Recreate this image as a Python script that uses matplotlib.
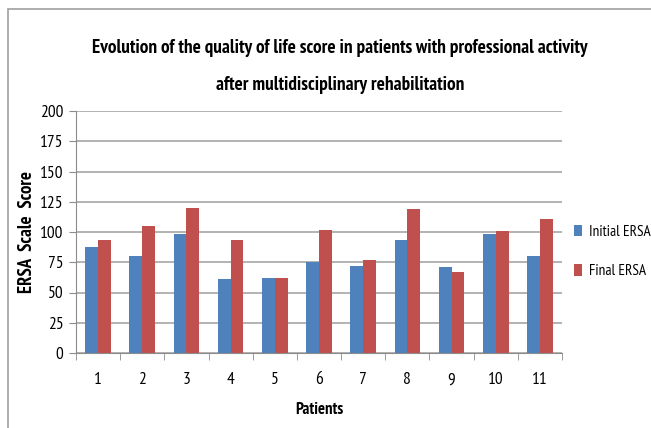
import numpy as np
import matplotlib.pyplot as plt
from matplotlib.patches import Rectangle

patients = ["1", "2", "3", "4", "5", "6", "7", "8", "9", "10", "11"]
initial_ersa = [88, 80, 98, 61, 62, 75, 72, 93, 71, 98, 80]
final_ersa = [93, 105, 120, 93, 62, 102, 77, 119, 67, 101, 111]

BLUE = "#4F81BD"
RED = "#C0504D"
FONT = ["PT Sans Narrow", "DejaVu Sans"]

plt.rcParams["font.family"] = FONT

fig = plt.figure(figsize=(6.51, 4.28), dpi=100)
fig.patches.append(Rectangle((8 / 651, -0.1), 1.2, 1 - 9 / 428 + 0.1,
                             transform=fig.transFigure, fill=False,
                             edgecolor="#A0A0A0", linewidth=1.2))

ax = fig.add_axes([76 / 651, 1 - 353 / 428, 486 / 651, 242 / 428])

x = np.arange(len(patients))
w = 0.29
ax.bar(x - w / 2, initial_ersa, w, color=BLUE, label="Initial ERSA")
ax.bar(x + w / 2, final_ersa, w, color=RED, label="Final ERSA")

ax.set_xlim(-0.5, len(patients) - 0.5)
ax.set_ylim(0, 200)
ax.set_yticks(range(0, 201, 25))
ax.yaxis.grid(True, color="#A6A6A6", linewidth=1.2)
ax.set_axisbelow(True)

# category ticks sit between the groups
ax.set_xticks(x)
ax.set_xticklabels(patients, fontsize=12.5)
ax.set_xticks(np.arange(-0.5, len(patients)), minor=True)
ax.tick_params(axis="x", which="major", length=0, pad=14)
ax.tick_params(axis="x", which="minor", length=5, color="#8C8C8C")
ax.tick_params(axis="y", length=5, color="#8C8C8C", labelsize=12.5, pad=4)

for s in ["top", "right"]:
    ax.spines[s].set_visible(False)
for s in ["left", "bottom"]:
    ax.spines[s].set_color("#8C8C8C")

ax.set_xlabel("Patients", fontsize=12, fontweight="bold", labelpad=10)
ax.set_ylabel("ERSA  Scale  Score", fontsize=13.5, fontweight="bold")
ax.yaxis.set_label_coords(-40 / 486, 0.5)

fig.text(340 / 651, 1 - 48 / 428,
         "Evolution of the quality of life score in patients with professional activity",
         ha="center", va="center", fontsize=13.8, fontweight="bold")
fig.text(340 / 651, 1 - 85 / 428, "after multidisciplinary rehabilitation",
         ha="center", va="center", fontsize=13.8, fontweight="bold")

ax.legend(loc="center left", bbox_to_anchor=(1.006, 0.42), frameon=False,
          fontsize=11, handlelength=0.55, handleheight=0.8,
          handletextpad=0.4, labelspacing=1.65, borderaxespad=0.2)

fig.savefig("out.png", dpi=100)
